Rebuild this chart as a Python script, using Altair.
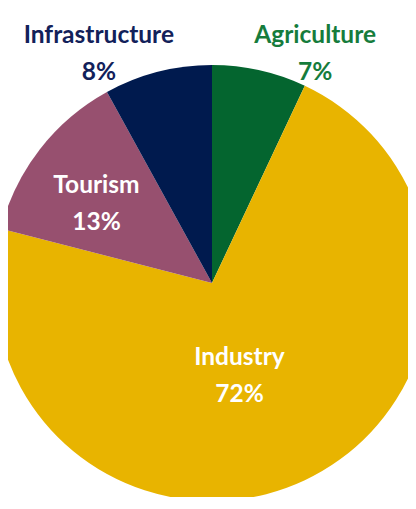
import altair as alt
import pandas as pd

categories = ["Agriculture", "Industry", "Tourism", "Infrastructure"]
shares = [7, 72, 13, 8]
slice_colors = ["#04652f", "#e8b400", "#97506f", "#001a4e"]

df = pd.DataFrame({
    "category": categories,
    "share": shares,
    "idx": list(range(len(categories))),
})
df["label"] = [f"{c}\n{s}%" for c, s in zip(categories, shares)]

CX, CY, R = 204, 275, 218
FONT = "Lato"

base = alt.Chart(df)

pie = base.mark_arc(outerRadius=R, stroke=None).encode(
    theta=alt.Theta("share:Q", stack=True),
    color=alt.Color("category:N", scale=alt.Scale(domain=categories, range=slice_colors), legend=None),
    order=alt.Order("idx:Q"),
    x=alt.value(CX),
    y=alt.value(CY),
)

# label placement per category: (radius, dx, dy, text colour)
label_style = {
    "Agriculture": (248, 49, 2, "#167c3c"),
    "Industry": (88, -10, 2, "#ffffff"),
    "Tourism": (150, 3, 2, "#ffffff"),
    "Infrastructure": (250, -51, 2, "#12215a"),
}

layers = [pie]
for cat in categories:
    r, dx, dy, col = label_style[cat]
    t = base.mark_text(
        radius=r, dx=dx, dy=dy, font=FONT, fontSize=24.5, fontWeight="bold",
        color=col, align="center", baseline="alphabetic", lineBreak="\n", lineHeight=37,
    ).encode(
        theta=alt.Theta("share:Q", stack=True),
        detail="category:N",
        order=alt.Order("idx:Q"),
        text=alt.condition(alt.datum.category == cat, alt.Text("label:N"), alt.value("")),
        x=alt.value(CX),
        y=alt.value(CY),
    )
    layers.append(t)

chart = alt.layer(*layers).properties(
    width=400, height=489, padding=0,
    autosize=alt.AutoSizeParams(type="none"),
).configure_view(stroke=None)

chart.save("out.html", embed_options={"renderer": "svg", "actions": False})
